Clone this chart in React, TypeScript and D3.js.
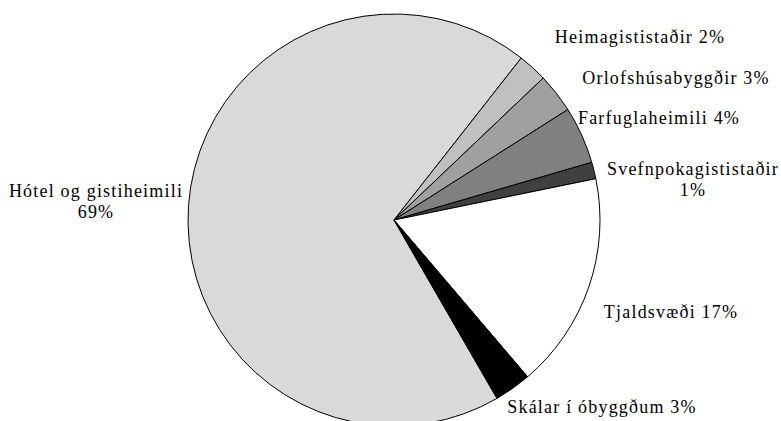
import React from "react";
import * as d3 from "d3";

const categories = [
  "Hótel og gistiheimili",
  "Heimagististaðir",
  "Orlofshúsabyggðir",
  "Farfuglaheimili",
  "Svefnpokagististaðir",
  "Tjaldsvæði",
  "Skálar í óbyggðum",
];
const values = [69.0, 2.3, 3.1, 4.5, 1.3, 17.0, 2.9];
const percentLabels = ["69%", "2%", "3%", "4%", "1%", "17%", "3%"];
const colors = ["#d9d9d9", "#c0c0c0", "#a0a0a0", "#808080", "#404040", "#ffffff", "#000000"];

// label layout: [centerX, baseline, twoLines]
const labelLayout: [number, number, boolean][] = [
  [96, 197, true],
  [640, 43, false],
  [676, 84, false],
  [659, 124, false],
  [693, 175, true],
  [671, 318, false],
  [602, 413, false],
];

const W = 781;
const H = 421;
const cx = 394;
const cy = 220;
const R = 206;
const start = (150 * Math.PI) / 180;

export default function App() {
  const pie = d3
    .pie<number>()
    .sort(null)
    .startAngle(start)
    .endAngle(start + 2 * Math.PI);
  const arcs = pie(values);
  const arc = d3.arc<d3.PieArcDatum<number>>().innerRadius(0).outerRadius(R);
  return (
    <svg
      width={W}
      height={H}
      style={{ position: "absolute", left: 0, top: 0, background: "#fff" }}
    >
      <g transform={`translate(${cx},${cy})`}>
        {arcs.map((a, i) => (
          <path key={i} d={arc(a) || ""} fill={colors[i]} stroke="#000" strokeWidth={1} />
        ))}
      </g>
      {categories.map((c, i) => {
        const [x, y, two] = labelLayout[i];
        return (
          <text
            key={i}
            x={x}
            y={y}
            textAnchor="middle"
            fill="#000"
            fontFamily="Liberation Serif"
            fontSize={18}
            letterSpacing={1.2}
          >
            {two ? (
              <>
                <tspan x={x} y={y}>{c}</tspan>
                <tspan x={x} y={y + 21}>{percentLabels[i]}</tspan>
              </>
            ) : (
              `${c} ${percentLabels[i]}`
            )}
          </text>
        );
      })}
    </svg>
  );
}
